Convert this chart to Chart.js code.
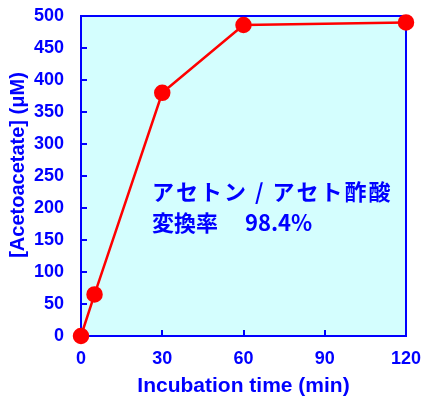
<!DOCTYPE html>
<html><head><meta charset="utf-8">
<script src="https://cdn.jsdelivr.net/npm/chart.js@4/dist/chart.umd.min.js"></script>
<style>html,body{margin:0;padding:0;background:#fff}#wrap{width:423px;height:399px}</style>
</head><body><div id="wrap"><canvas id="c" width="423" height="399"></canvas></div>
<script>
const times = [0, 5, 30, 60, 120];
const acetoacetate = [0, 65, 380, 486, 490];
const xTicks = [0, 30, 60, 90, 120];
const yTicks = [0, 50, 100, 150, 200, 250, 300, 350, 400, 450, 500];
const xTitle = 'Incubation time (min)';
const yTitle = '[Acetoacetate] (μM)';
const noteLines = ['アセトン / アセト酢酸', '変換率\u3000 98.4%'];

const BLUE = '#0000ff';
const framePlugin = {
  id: 'frame',
  beforeDatasetsDraw(chart) {
    const {ctx, chartArea: a, scales} = chart;
    ctx.save();
    ctx.fillStyle = '#d4fefe';
    ctx.fillRect(a.left, a.top, a.right - a.left, a.bottom - a.top);
    ctx.strokeStyle = BLUE;
    ctx.lineWidth = 2;
    ctx.strokeRect(a.left, a.top, a.right - a.left, a.bottom - a.top);
    ctx.beginPath();
    scales.y.ticks.forEach((t, i) => {
      const y = Math.round(scales.y.getPixelForTick(i));
      ctx.moveTo(a.left, y); ctx.lineTo(a.left + 6, y);
    });
    scales.x.ticks.forEach((t, i) => {
      const x = Math.round(scales.x.getPixelForTick(i));
      ctx.moveTo(x, a.bottom); ctx.lineTo(x, a.bottom - 6);
    });
    ctx.stroke();
    // y axis title
    ctx.fillStyle = BLUE;
    ctx.font = 'bold 20px "Liberation Sans", Arial, sans-serif';
    ctx.textAlign = 'center';
    ctx.textBaseline = 'middle';
    ctx.translate(18, 165);
    ctx.rotate(-Math.PI / 2);
    ctx.fillText(yTitle, 0, 0);
    ctx.restore();
  },
  afterDatasetsDraw(chart) {
    const {ctx} = chart;
    ctx.save();
    ctx.fillStyle = BLUE;
    ctx.font = 'bold 22px "Noto Sans CJK JP", "Liberation Sans", sans-serif';
    ctx.textBaseline = 'middle';
    ctx.letterSpacing = '2px';
    ctx.fillText(noteLines[0], 152, 192);
    ctx.letterSpacing = '0px';
    ctx.fillText(noteLines[1], 152, 223);
    ctx.restore();
  }
};

new Chart(document.getElementById('c'), {
  type: 'line',
  data: {
    datasets: [{
      data: times.map((t, i) => ({x: t, y: acetoacetate[i]})),
      borderColor: '#ff0000',
      backgroundColor: '#ff0000',
      borderWidth: 2.5,
      pointRadius: 7,
      pointHoverRadius: 7,
      tension: 0,
      clip: false
    }]
  },
  options: {
    responsive: false,
    animation: false,
    events: [],
    layout: {padding: {top: 16, right: 17, left: 0, bottom: 0}},
    plugins: {legend: {display: false}, tooltip: {enabled: false}},
    scales: {
      x: {
        type: 'linear', min: 0, max: 120,
        afterBuildTicks(s) { s.ticks = xTicks.map(v => ({value: v})); },
        afterFit(s) { s.height = 63; s.paddingLeft = 0; s.paddingRight = 0; },
        grid: {display: false}, border: {display: false},
        ticks: {color: BLUE, padding: 4, font: {family: '"Liberation Sans", Arial', size: 18, weight: 'bold'}},
        title: {display: true, text: xTitle, color: BLUE, padding: {top: 0, bottom: 0},
          font: {family: '"Liberation Sans", Arial', size: 21, weight: 'bold'}}
      },
      y: {
        type: 'linear', min: 0, max: 500,
        afterBuildTicks(s) { s.ticks = yTicks.map(v => ({value: v})); },
        afterFit(s) { s.width = 81; s.paddingTop = 0; s.paddingBottom = 0; },
        grid: {display: false}, border: {display: false},
        ticks: {color: BLUE, padding: 9, font: {family: '"Liberation Sans", Arial', size: 18, weight: 'bold'}},
        title: {display: false}
      }
    }
  },
  plugins: [framePlugin]
});
</script></body></html>
